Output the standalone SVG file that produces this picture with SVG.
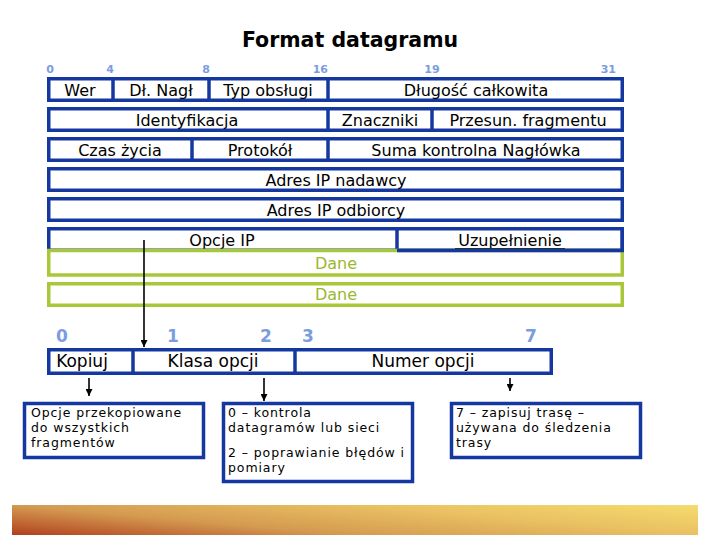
<svg xmlns="http://www.w3.org/2000/svg" width="720" height="540" viewBox="0 0 720 540">
<style>
.b{fill:none;stroke:#1438a0;stroke-width:3.5}
.g{fill:none;stroke:#a8c83a;stroke-width:3.5}
.t{font-family:"DejaVu Sans",sans-serif;font-size:16px;fill:#000;text-anchor:middle}
.d{font-family:"DejaVu Sans",sans-serif;font-size:16px;fill:#9ab82e;text-anchor:middle}
.n{font-family:"DejaVu Sans",sans-serif;font-size:11px;font-weight:bold;fill:#7b9de0}
.N{font-family:"DejaVu Sans",sans-serif;font-size:17px;font-weight:bold;fill:#7b9de0}
.L{font-family:"DejaVu Sans",sans-serif;font-size:17px;fill:#000;text-anchor:middle}
.s{font-family:"DejaVu Sans",sans-serif;font-size:12.5px;letter-spacing:0.9px;fill:#000}
.c{stroke:#000;stroke-width:1.6;fill:none}
</style>
<defs>
<marker id="ah" viewBox="0 0 10 10" refX="10" refY="5" markerWidth="7" markerHeight="7" markerUnits="userSpaceOnUse" orient="auto">
<path d="M0,0 L10,5 L0,10 z" fill="#000"/>
</marker>
<linearGradient id="bg" gradientUnits="userSpaceOnUse" x1="12" y1="535" x2="20" y2="445">
<stop offset="0" stop-color="#b0401e"/>
<stop offset="0.33" stop-color="#d49a50"/>
<stop offset="0.67" stop-color="#e9c062"/>
<stop offset="1" stop-color="#f5dc6e"/>
</linearGradient>
</defs>
<rect width="720" height="540" fill="#fff"/>
<text x="350" y="47" font-family="DejaVu Sans, sans-serif" font-size="20.5" font-weight="bold" text-anchor="middle">Format datagramu</text>

<g id="bits-top">
<text class="n" x="50" y="73" text-anchor="middle">0</text>
<text class="n" x="110" y="73" text-anchor="middle">4</text>
<text class="n" x="206" y="73" text-anchor="middle">8</text>
<text class="n" x="328" y="73" text-anchor="end">16</text>
<text class="n" x="432" y="73" text-anchor="middle">19</text>
<text class="n" x="616" y="73" text-anchor="end">31</text>
</g>

<g id="row1">
<rect class="b" x="48.75" y="78.75" width="573.5" height="21.5"/>
<line class="b" x1="113" y1="78" x2="113" y2="101"/>
<line class="b" x1="209" y1="78" x2="209" y2="101"/>
<line class="b" x1="328" y1="78" x2="328" y2="101"/>
<text class="t" x="80" y="96">Wer</text>
<text class="t" x="161" y="96">Dł. Nagł</text>
<text class="t" x="268" y="96">Typ obsługi</text>
<text class="t" x="476" y="96">Długość całkowita</text>
</g>
<g id="row2">
<rect class="b" x="48.75" y="108.75" width="573.5" height="21.5"/>
<line class="b" x1="328" y1="108" x2="328" y2="131"/>
<line class="b" x1="432" y1="108" x2="432" y2="131"/>
<text class="t" x="187" y="126">Identyfikacja</text>
<text class="t" x="380" y="126">Znaczniki</text>
<text class="t" x="528" y="126">Przesun. fragmentu</text>
</g>
<g id="row3">
<rect class="b" x="48.75" y="138.75" width="573.5" height="21.5"/>
<line class="b" x1="192" y1="138" x2="192" y2="161"/>
<line class="b" x1="328" y1="138" x2="328" y2="161"/>
<text class="t" x="120" y="156">Czas życia</text>
<text class="t" x="260" y="156">Protokół</text>
<text class="t" x="476" y="156">Suma kontrolna Nagłówka</text>
</g>
<g id="row4">
<rect class="b" x="48.75" y="168.75" width="573.5" height="21.5"/>
<text class="t" x="336" y="186">Adres IP nadawcy</text>
</g>
<g id="row5">
<rect class="b" x="48.75" y="198.75" width="573.5" height="21.5"/>
<text class="t" x="336" y="216">Adres IP odbiorcy</text>
</g>
<g id="row6">
<rect class="b" x="48.75" y="228.75" width="573.5" height="21.5"/>
<line class="b" x1="397" y1="228" x2="397" y2="251"/>
<text class="t" x="222" y="246">Opcje IP</text>
<text class="t" x="510" y="246">Uzupełnienie</text>
<line x1="455" y1="248.5" x2="565" y2="248.5" stroke="#000" stroke-width="1.2"/>
</g>
<g id="dane1">
<rect class="g" x="48.75" y="250.5" width="573.5" height="24.5"/>
<line class="b" x1="397" y1="250.5" x2="624" y2="250.5"/>
<line class="b" x1="622.25" y1="228" x2="622.25" y2="252"/>
<text class="d" x="336" y="269">Dane</text>
</g>
<g id="dane2">
<rect class="g" x="48.75" y="283.75" width="573.5" height="21.5"/>
<text class="d" x="336" y="300">Dane</text>
</g>

<g id="bits-bottom">
<text class="N" x="62" y="342" text-anchor="middle">0</text>
<text class="N" x="173" y="342" text-anchor="middle">1</text>
<text class="N" x="266" y="342" text-anchor="middle">2</text>
<text class="N" x="308" y="342" text-anchor="middle">3</text>
<text class="N" x="531" y="342" text-anchor="middle">7</text>
</g>

<g id="option-row">
<rect class="b" x="48.75" y="349.75" width="502.5" height="23.5"/>
<line class="b" x1="133" y1="349" x2="133" y2="374"/>
<line class="b" x1="295" y1="349" x2="295" y2="374"/>
<text class="L" x="82" y="367">Kopiuj</text>
<text class="L" x="213" y="367">Klasa opcji</text>
<text class="L" x="423" y="367">Numer opcji</text>
</g>

<g id="box-kopiuj">
<rect class="b" x="24.5" y="403.5" width="179" height="54"/>
<text class="s" x="31" y="417">Opcje przekopiowane</text>
<text class="s" x="31" y="432">do wszystkich</text>
<text class="s" x="31" y="447">fragmentów</text>
</g>
<g id="box-klasa">
<rect class="b" x="223.5" y="403.5" width="189" height="78"/>
<text class="s" x="228" y="417">0 – kontrola</text>
<text class="s" x="228" y="432">datagramów lub sieci</text>
<text class="s" x="228" y="457">2 – poprawianie błędów i</text>
<text class="s" x="228" y="472">pomiary</text>
</g>
<g id="box-numer">
<rect class="b" x="451.5" y="403.5" width="189" height="54"/>
<text class="s" x="456" y="417">7 – zapisuj trasę –</text>
<text class="s" x="456" y="432">używana do śledzenia</text>
<text class="s" x="456" y="447">trasy</text>
</g>

<g id="connectors">
<line class="c" x1="144" y1="240" x2="144" y2="347" marker-end="url(#ah)"/>
<line class="c" x1="89" y1="378" x2="89" y2="396" marker-end="url(#ah)"/>
<line class="c" x1="264" y1="378" x2="264" y2="401" marker-end="url(#ah)"/>
<line class="c" x1="510" y1="378" x2="510" y2="391" marker-end="url(#ah)"/>
</g>

<rect x="12" y="505" width="686" height="30" fill="url(#bg)"/>
</svg>
